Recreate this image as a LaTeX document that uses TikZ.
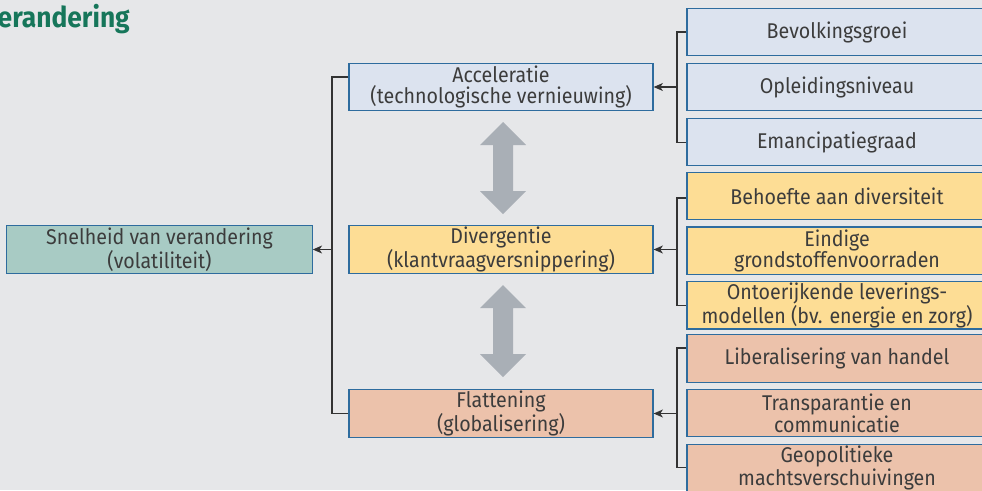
\documentclass[tikz,border=0pt]{standalone}
\usepackage{fontspec}
\setmainfont{Fira Sans}[FakeStretch=0.92]
\usepackage{xcolor}
\usetikzlibrary{calc, positioning, arrows.meta}

\definecolor{achtergrond}{HTML}{E6E7E9}
\definecolor{rand}{HTML}{2E6C9E}
\definecolor{tekst}{HTML}{3C3C3C}
\definecolor{titelgroen}{HTML}{16765A}
\definecolor{teal}{HTML}{A8CBC4}
\definecolor{lichtblauw}{HTML}{DCE3EF}
\definecolor{geel}{HTML}{FDDD95}
\definecolor{zalm}{HTML}{ECC2AB}
\definecolor{pijlgrijs}{HTML}{A9AFB6}

\begin{document}
\begin{tikzpicture}[x=0.75pt, y=-0.75pt, >={Stealth[length=7pt, width=6pt, inset=2pt]},
    blok/.style={draw=rand, line width=0.9pt, minimum width=228pt, minimum height=35.5pt,
        inner sep=0pt, align=center, text=tekst, font=\fontsize{16}{15.5}\selectfont},
    rblok/.style={blok, minimum width=225pt},
    lijn/.style={draw=black!80, line width=0.9pt}]

    % 1. Achtergrond en titel
    \clip (0,0) rectangle (982,490);
    \fill[achtergrond] (0,0) rectangle (982,490);
    \node[anchor=base east, inner sep=0pt, text=titelgroen, font=\fontsize{21.5}{21.5}\bfseries] (titel) at (130,27) {erandering};

    % 2. Linker- en middenkolom
    \node[blok, fill=teal, minimum width=229pt] (snel) at (159.5,249.5) {Snelheid van verandering\\(volatiliteit)};
    \node[blok, fill=lichtblauw] (acc) at (501,87) {Acceleratie\\(technologische vernieuwing)};
    \node[blok, fill=geel] (div) at (501,249.5) {Divergentie\\(klantvraagversnippering)};
    \node[blok, fill=zalm] (flat) at (501,413.5) {Flattening\\(globalisering)};

    % 3. Rechterkolom
    \node[rblok, fill=lichtblauw] (bev) at (837,32) {Bevolkingsgroei};
    \node[rblok, fill=lichtblauw, below=4.9pt of bev] (opl) {Opleidingsniveau};
    \node[rblok, fill=lichtblauw, below=4.9pt of opl] (emc) {Emancipatiegraad};
    \node[rblok, fill=geel] (beh) at (837,196) {Behoefte aan diversiteit};
    \node[rblok, fill=geel, below=4.6pt of beh] (ein) {Eindige\\grondstoffenvoorraden};
    \node[rblok, fill=geel, below=4.6pt of ein] (ont) {Ontoerijkende leverings-\\modellen (bv. energie en zorg)};
    \node[rblok, fill=zalm] (lib) at (837,358.5) {Liberalisering van handel};
    \node[rblok, fill=zalm, below=4.6pt of lib] (tra) {Transparantie en\\communicatie};
    \node[rblok, fill=zalm, below=4.6pt of tra] (geo) {Geopolitieke\\machtsverschuivingen};

    % 4. Verbindingen
    \coordinate (lj) at (332,0 |- snel.east);
    \draw[lijn] ([yshift=7.5pt]acc.west) -| (lj) |- (flat.west);
    \draw[lijn, ->] (lj) -- (snel.east);

    \coordinate (bj) at (677,0 |- acc.east);
    \draw[lijn] (bev.west) -| (bj) |- (emc.west);
    \draw[lijn, ->] (bj) -- (acc.east);

    \coordinate (yj) at (677,0 |- div.east);
    \draw[lijn] ([yshift=-1.5pt]beh.west) -| (yj) |- (ont.west);
    \draw[lijn, ->] (yj) -- (div.east);

    \coordinate (zj) at (677,0 |- flat.east);
    \draw[lijn] ([yshift=7.9pt]lib.west) -| (zj) |- (geo.west);
    \draw[lijn, ->] (zj) -- (flat.east);

    % 5. Grijze dubbele pijlen
    \foreach \t/\b in {122/214, 285/377}
        \fill[pijlgrijs] (503,\t) -- (526,\t+23) -- (513,\t+23) -- (513,\b-23) -- (526,\b-23)
            -- (503,\b) -- (480,\b-23) -- (493,\b-23) -- (493,\t+23) -- (480,\t+23) -- cycle;

\end{tikzpicture}
\end{document}
